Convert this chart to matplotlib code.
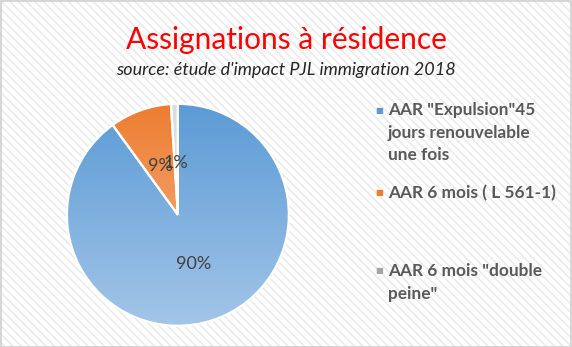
import numpy as np
import matplotlib.pyplot as plt
from matplotlib.colors import LinearSegmentedColormap
from matplotlib.patches import Rectangle

categories = ['AAR "Expulsion"45\njours renouvelable\nune fois',
              'AAR 6 mois ( L 561-1)',
              'AAR 6 mois "double\npeine"']
values = [90, 9, 1]
# gradient (top, bottom) for each slice
grads = [('#5b9bd5', '#a3c5e8'), ('#ed7d31', '#f7bb92'), ('#dcdcdc', '#ececec')]
legend_colors = ['#5b9bd5', '#ed7d31', '#a5a5a5']

W, H = 572, 347
fig = plt.figure(figsize=(W / 100, H / 100), dpi=100)

# hatched background + frame
plt.rcParams['hatch.linewidth'] = 1.2
bg = Rectangle((0, 0), 1, 1, transform=fig.transFigure, facecolor='white',
               edgecolor='#ebebeb', hatch='\\\\\\\\', linewidth=0, zorder=-10)
fig.add_artist(bg)
frame = Rectangle((0.5 / W, 0.5 / H), 1 - 1.5 / W, 1 - 1.5 / H, transform=fig.transFigure,
                  fill=False, edgecolor='#d0d0d0', linewidth=1.2, zorder=-5)
fig.add_artist(frame)

ax = fig.add_axes([0.115, 0.058, 0.392, 0.646])
ax.set_facecolor('none')
wedges, texts, autotexts = ax.pie(values, startangle=90, counterclock=False,
                                  autopct='%1.0f%%', pctdistance=0.47,
                                  wedgeprops=dict(facecolor='none', edgecolor='white', linewidth=1.6),
                                  textprops=dict(color='#404040', fontsize=13, family='Lato'))

for w, (top, bot) in zip(wedges, grads):
    cmap = LinearSegmentedColormap.from_list('g', [bot, top])
    grad = np.linspace(1, 0, 256).reshape(-1, 1)
    im = ax.imshow(grad, cmap=cmap, extent=[-1, 1, -1, 1], aspect='auto', zorder=0.5)
    im.set_clip_path(w)
    w.set_zorder(1)
for t in autotexts:
    t.set_zorder(3)
ax.set_aspect('equal')
ax.set_xlim(-1.01, 1.01)
ax.set_ylim(-1.01, 1.01)
ax.axis('off')

fig.text(0.5, 1 - 40 / H, 'Assignations à résidence', ha='center', va='center',
         color='#ff0000', fontsize=21.5, family='Lato')
fig.text(0.5, 1 - 70 / H, "source: étude d'impact PJL immigration 2018", ha='center', va='center',
         color='#262626', fontsize=13, family='Lato', style='italic')

entry_y = [110, 193, 271]
for lab, col, y in zip(categories, legend_colors, entry_y):
    fig.text(375 / W, 1 - y / H, '■', color=col, fontsize=6, va='center', ha='left')
    fig.text(388 / W, 1 - (y - 8) / H, lab, color='#595959', fontsize=12.4, fontweight='bold',
             family='Lato', va='top', ha='left', linespacing=1.5)

fig.savefig('out.png', dpi=100)
